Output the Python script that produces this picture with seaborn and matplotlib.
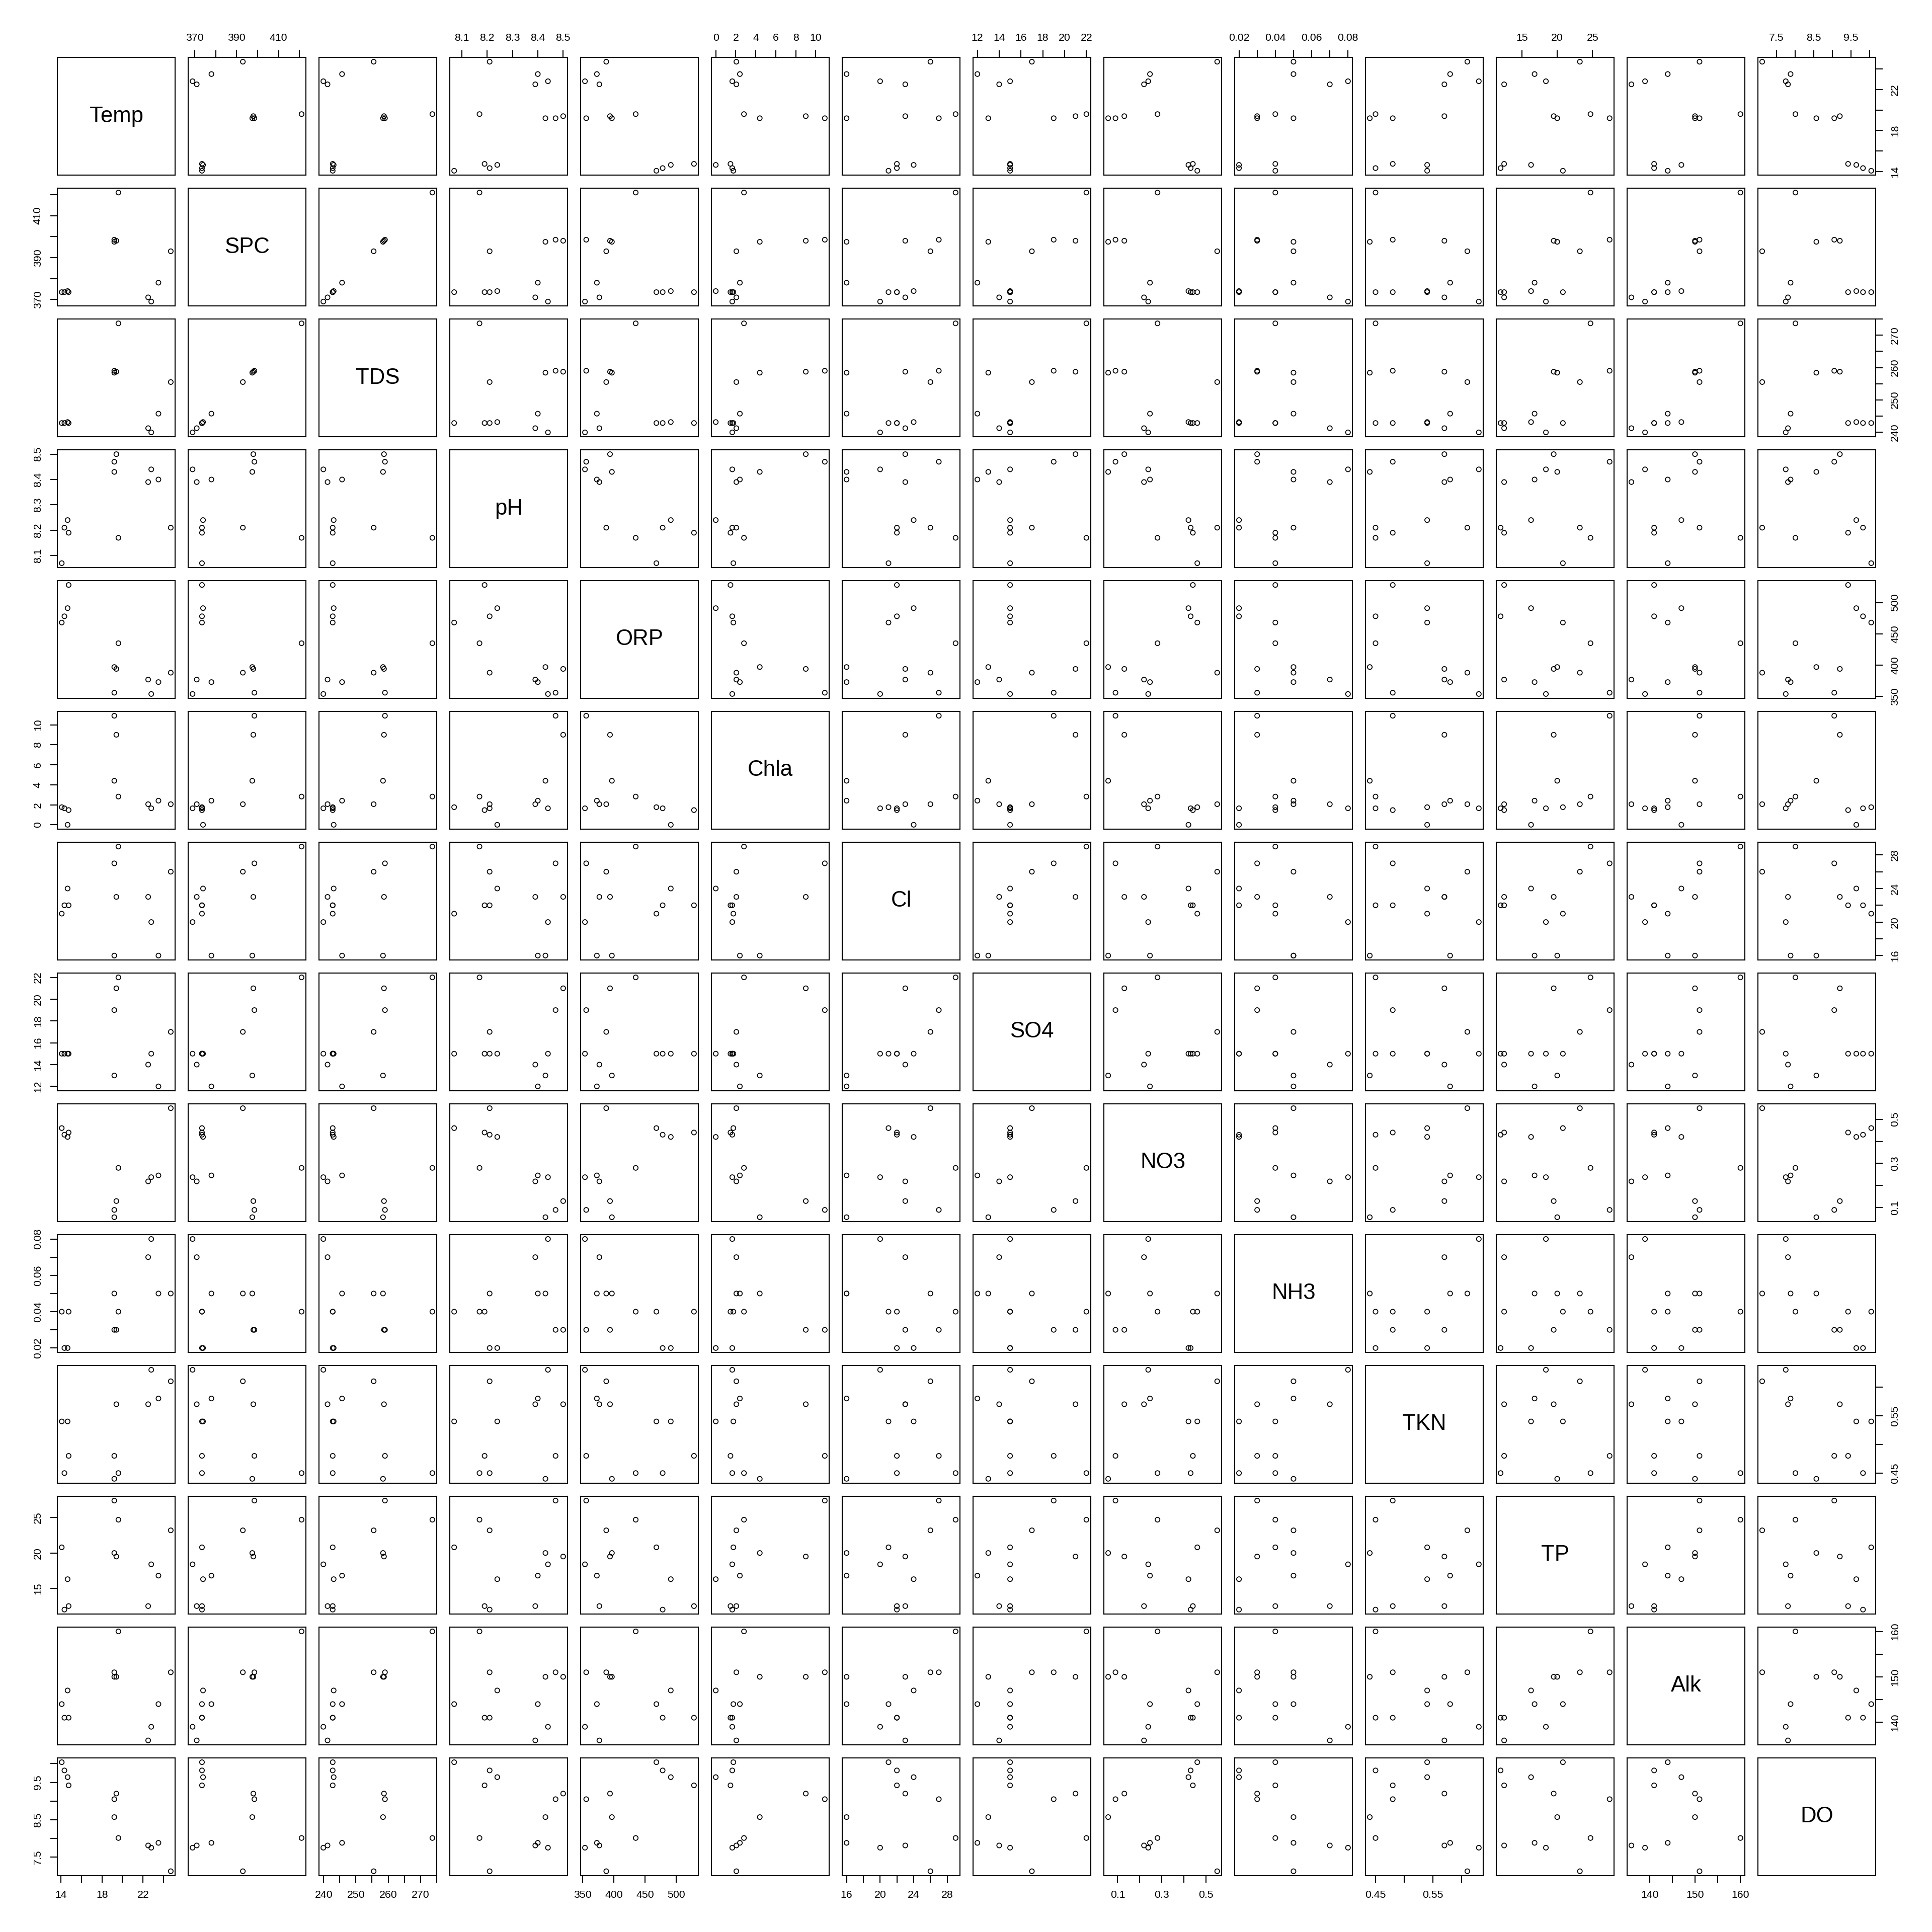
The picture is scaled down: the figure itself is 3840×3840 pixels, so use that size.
import numpy as np
import pandas as pd
import matplotlib
matplotlib.use("Agg")
import matplotlib.pyplot as plt
import seaborn as sns
from matplotlib.ticker import FixedLocator, FixedFormatter

# ---- data (12 samples) ----
Temp = [14.08, 14.34, 14.65, 14.75, 19.4, 19.2, 19.2, 19.6, 23.5, 22.5, 22.8, 24.7]
SPC = [373.5, 373.5, 374.0, 373.5, 398.0, 398.5, 397.5, 421.0, 378.0, 371.0, 369.0, 393.0]
TDS = [242.8, 242.8, 243.1, 242.8, 258.7, 259.0, 258.4, 273.7, 245.7, 241.2, 239.9, 255.5]
pH = [8.07, 8.21, 8.24, 8.19, 8.50, 8.47, 8.43, 8.17, 8.40, 8.39, 8.44, 8.21]
ORP = [468, 478, 491, 528, 394, 356, 397, 435, 373, 377, 354, 388]
Chla = [1.76, 1.65, 0.0, 1.47, 9.0, 10.9, 4.4, 2.82, 2.41, 2.06, 1.65, 2.06]
Cl = [21, 22, 24, 22, 23, 27, 16, 29, 16, 23, 20, 26]
SO4 = [15, 15, 15, 15, 21, 19, 13, 22, 12, 14, 15, 17]
NO3 = [0.46, 0.43, 0.42, 0.44, 0.13, 0.09, 0.057, 0.28, 0.246, 0.219, 0.238, 0.55]
NH3 = [0.04, 0.02, 0.02, 0.04, 0.03, 0.03, 0.05, 0.04, 0.05, 0.07, 0.08, 0.05]
TKN = [0.54, 0.45, 0.54, 0.48, 0.57, 0.48, 0.44, 0.45, 0.58, 0.57, 0.63, 0.61]
TP = [20.8, 12.0, 16.3, 12.5, 19.5, 27.4, 20.0, 24.7, 16.8, 12.5, 18.4, 23.2]
Alk = [144, 141, 147, 141, 150, 151, 150, 160, 144, 136, 139, 151]
DO = [10.04, 9.82, 9.64, 9.42, 9.20, 9.05, 8.57, 8.01, 7.88, 7.81, 7.75, 7.12]

names = ["Temp", "SPC", "TDS", "pH", "ORP", "Chla", "Cl", "SO4",
         "NO3", "NH3", "TKN", "TP", "Alk", "DO"]

# tick positions and their labels ('' = tick without label)
tick_vals = {
    "Temp": [14, 16, 18, 20, 22, 24],
    "SPC": [370, 380, 390, 400, 410, 420],
    "TDS": [240, 245, 250, 255, 260, 265, 270, 275],
    "pH": [8.1, 8.2, 8.3, 8.4, 8.5],
    "ORP": [350, 400, 450, 500],
    "Chla": [0, 2, 4, 6, 8, 10],
    "Cl": [16, 18, 20, 22, 24, 26, 28],
    "SO4": [12, 14, 16, 18, 20, 22],
    "NO3": [0.1, 0.2, 0.3, 0.4, 0.5],
    "NH3": [0.02, 0.03, 0.04, 0.05, 0.06, 0.07, 0.08],
    "TKN": [0.45, 0.50, 0.55, 0.60],
    "TP": [15, 20, 25],
    "Alk": [140, 145, 150, 155, 160],
    "DO": [7.5, 8.0, 8.5, 9.0, 9.5, 10.0],
}
tick_labels = {
    "Temp": ["14", "", "18", "", "22", ""],
    "SPC": ["370", "", "390", "", "410", ""],
    "TDS": ["240", "", "250", "", "260", "", "270", ""],
    "pH": ["8.1", "8.2", "8.3", "8.4", "8.5"],
    "ORP": ["350", "400", "450", "500"],
    "Chla": ["0", "2", "4", "6", "8", "10"],
    "Cl": ["16", "", "20", "", "24", "", "28"],
    "SO4": ["12", "14", "16", "18", "20", "22"],
    "NO3": ["0.1", "", "0.3", "", "0.5"],
    "NH3": ["0.02", "", "0.04", "", "0.06", "", "0.08"],
    "TKN": ["0.45", "", "0.55", ""],
    "TP": ["15", "20", "25"],
    "Alk": ["140", "", "150", "", "160"],
    "DO": ["7.5", "", "8.5", "", "9.5", ""],
}

df = pd.DataFrame({"Temp": Temp, "SPC": SPC, "TDS": TDS, "pH": pH, "ORP": ORP,
                   "Chla": Chla, "Cl": Cl, "SO4": SO4, "NO3": NO3, "NH3": NH3,
                   "TKN": TKN, "TP": TP, "Alk": Alk, "DO": DO})

sns.set_theme(style="white", rc={
    "axes.edgecolor": "black", "axes.linewidth": 0.5,
    "xtick.color": "black", "ytick.color": "black", "text.color": "black",
    "xtick.major.size": 3.4, "ytick.major.size": 3.4,
    "xtick.major.width": 0.5, "ytick.major.width": 0.5,
    "xtick.major.pad": 3.6, "ytick.major.pad": 3.6,
    "xtick.labelsize": 5.1, "ytick.labelsize": 5.1,
    "xtick.direction": "out", "ytick.direction": "out",
    "axes.xmargin": 0.04, "axes.ymargin": 0.04,
    "ytick.alignment": "center",
})
plt.rcParams["font.family"] = ["Liberation Sans", "DejaVu Sans"]

n = len(names)
g = sns.PairGrid(df, vars=names, height=12.8 / n, aspect=1, despine=False)
g.map_offdiag(sns.scatterplot, color="black", facecolor="none",
              edgecolor="black", s=5.0, linewidth=0.42, marker="o")

for i in range(n):
    for j in range(n):
        ax = g.axes[i, j]
        ax.set_xlabel("")
        ax.set_ylabel("")
        ax.grid(False)
        ax.tick_params(axis="both", which="both", bottom=False, top=False,
                       left=False, right=False, labelbottom=False, labeltop=False,
                       labelleft=False, labelright=False)
        for sp in ax.spines.values():
            sp.set_visible(True)
            sp.set_color("black")
            sp.set_linewidth(0.5)

# diagonal labels
for i, v in enumerate(names):
    g.axes[i, i].text(0.5, 0.5, v, transform=g.axes[i, i].transAxes,
                      ha="center", va="center", fontsize=10.5)

# R pairs-style alternating axes
for j, v in enumerate(names):
    ax = g.axes[0, j] if j % 2 == 1 else g.axes[n - 1, j]
    ax.xaxis.set_major_locator(FixedLocator(tick_vals[v]))
    ax.xaxis.set_major_formatter(FixedFormatter(tick_labels[v]))
    if j % 2 == 1:
        ax.tick_params(axis="x", top=True, labeltop=True)
    else:
        ax.tick_params(axis="x", bottom=True, labelbottom=True)

for i, v in enumerate(names):
    ax = g.axes[i, 0] if i % 2 == 1 else g.axes[i, n - 1]
    ax.yaxis.set_major_locator(FixedLocator(tick_vals[v]))
    ax.yaxis.set_major_formatter(FixedFormatter(tick_labels[v]))
    if i % 2 == 1:
        ax.tick_params(axis="y", left=True, labelleft=True, labelrotation=90)
    else:
        ax.tick_params(axis="y", right=True, labelright=True, labelrotation=90)

g.figure.set_size_inches(12.8, 12.8)
g.figure.subplots_adjust(left=0.0297, right=0.9708, bottom=0.0292, top=0.9703,
                         wspace=0.111, hspace=0.111)
g.figure.savefig("out.png", dpi=300, facecolor="white")
